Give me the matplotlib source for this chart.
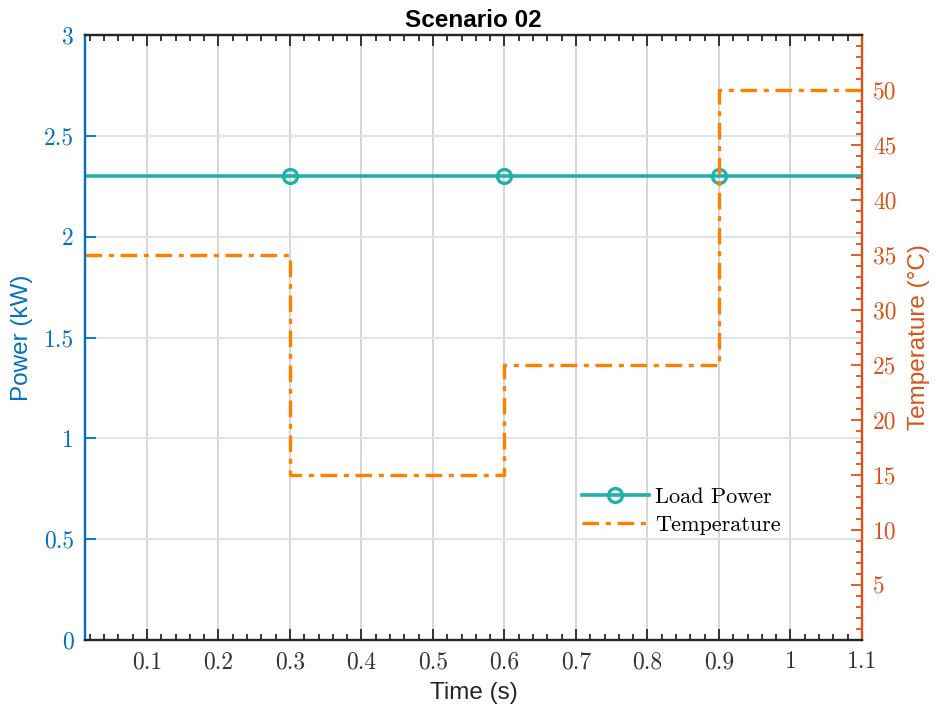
import matplotlib
matplotlib.use("Agg")
import matplotlib.pyplot as plt
from matplotlib.ticker import MultipleLocator, NullLocator

# Data
power_t = [0.0133, 0.3, 0.6, 0.9, 1.1]
power_kw = [2.3, 2.3, 2.3, 2.3, 2.3]
marker_idx = [1, 2, 3]

temp_t = [0.0133, 0.3, 0.6, 0.9, 1.1]
temp_c = [35, 15, 25, 50, 50]

x_ticks = [0.1, 0.2, 0.3, 0.4, 0.5, 0.6, 0.7, 0.8, 0.9, 1.0, 1.1]
x_labels = ["0.1", "0.2", "0.3", "0.4", "0.5", "0.6", "0.7", "0.8", "0.9", "1", "1.1"]
p_ticks = [0, 0.5, 1, 1.5, 2, 2.5, 3]
p_labels = ["0", "0.5", "1", "1.5", "2", "2.5", "3"]
t_ticks = [5, 10, 15, 20, 25, 30, 35, 40, 45, 50]

BLUE = "#0072BD"
ORANGE_AX = "#D95319"
TEAL = "#20B2AA"
ORANGE = "#FF8000"
SERIF = "cmr10"
SANS = "Liberation Sans"

fig = plt.figure(figsize=(9.37, 7.12), dpi=100)
ax = fig.add_axes([85/937, 1 - 640/712, (862-85)/937, (640-35)/712])
ax2 = ax.twinx()

# grid: vertical gray, horizontal light blue
for x in x_ticks:
    ax.axvline(x, color="#d6d6d6", lw=1.4, zorder=0)
for y in p_ticks[1:-1]:
    ax.axhline(y, color="#d8e6f2", lw=1.4, zorder=0)

ln1, = ax.plot(power_t, power_kw, color=TEAL, lw=2.6, marker="o", markevery=marker_idx,
               markersize=10, markerfacecolor="none", markeredgewidth=2.4, label="Load Power")
ln2, = ax2.step(temp_t, temp_c, where="post", color=ORANGE, lw=2.4, linestyle=(0, (5, 2, 1.5, 2)),
                label="Temperature")

ax.set_xlim(0.0133, 1.1)
ax.set_ylim(0, 3)
ax2.set_ylim(0, 55)

ax.set_xticks(x_ticks)
ax.set_xticklabels(x_labels, fontfamily=SERIF, fontsize=17, color="#333333")
ax.xaxis.set_minor_locator(MultipleLocator(0.02))
ax.set_yticks(p_ticks)
ax.set_yticklabels(p_labels, fontfamily=SERIF, fontsize=17, color=BLUE)
ax.yaxis.set_minor_locator(NullLocator())
ax2.set_yticks(t_ticks)
ax2.set_yticklabels([str(v) for v in t_ticks], fontfamily=SERIF, fontsize=17, color=ORANGE_AX)
ax2.yaxis.set_minor_locator(MultipleLocator(1))

ax.tick_params(axis="x", which="both", direction="in", top=True, color="#262626", width=1.3)
ax.tick_params(axis="x", which="major", length=8, pad=8)
ax.tick_params(axis="x", which="minor", length=4)
ax.tick_params(axis="y", which="major", direction="in", color=BLUE, length=8, width=1.3, pad=8)
ax2.tick_params(axis="y", which="both", direction="in", color=ORANGE_AX, width=1.3)
ax2.tick_params(axis="y", which="major", length=8, pad=8)
ax2.tick_params(axis="y", which="minor", length=4)
ax.yaxis.set_ticks_position("left")
ax2.yaxis.set_ticks_position("right")

for a in (ax, ax2):
    a.spines["top"].set_color("#262626")
    a.spines["bottom"].set_color("#262626")
    a.spines["left"].set_color(BLUE)
    a.spines["right"].set_color(ORANGE_AX)
    for s in a.spines.values():
        s.set_linewidth(1.6)

ax.set_xlabel("Time (s)", fontfamily=SANS, fontsize=17.5, color="#262626", labelpad=6)
ax.set_ylabel("Power (kW)", fontfamily=SANS, fontsize=17.5, color=BLUE, labelpad=8)
ax2.set_ylabel("Temperature (°C)", fontfamily=SANS, fontsize=17.5, color=ORANGE_AX, labelpad=8)
ax.set_title("Scenario 02", fontfamily=SANS, fontsize=17.5, fontweight="bold", pad=6)

ax2.legend([ln1, ln2], ["Load Power", "Temperature"], loc="upper left",
           bbox_to_anchor=(0.614, 0.286), frameon=False,
           prop={"family": SERIF, "size": 16}, handlelength=3.0, handletextpad=0.3,
           labelspacing=0.38)

fig.savefig("out.png", dpi=100)
